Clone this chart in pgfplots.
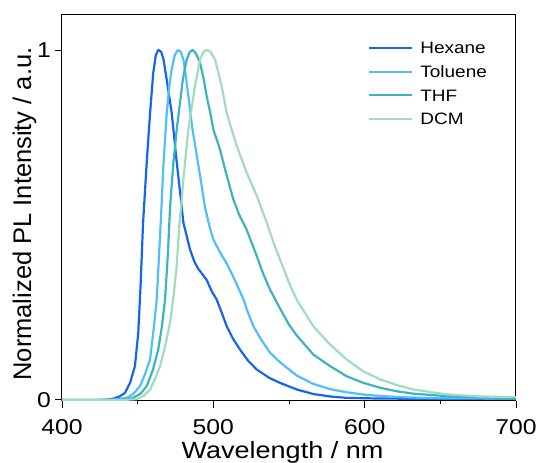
\documentclass[border=0pt]{standalone}
\usepackage{fontspec}
\setmainfont{Liberation Sans}[FakeStretch=1.15]
\newfontfamily\ylabfont{Liberation Sans}
\usepackage{pgfplots}
\pgfplotsset{compat=1.18}

\definecolor{cHex}{RGB}{22,100,240}
\definecolor{cTol}{RGB}{80,190,255}
\definecolor{cTHF}{RGB}{60,180,192}
\definecolor{cDCM}{RGB}{162,220,188}

\begin{document}
\begin{tikzpicture}
\useasboundingbox (-62pt,-62pt) rectangle (477pt,401pt);
\begin{axis}[
    scale only axis,
    width=454pt, height=386pt,
    xmin=400, xmax=700,
    ymin=-0.003, ymax=1.1,
    xtick={400,500,600,700},
    minor xtick={450,550,650},
    ytick={0,1},
    xtick pos=lower, ytick pos=left,
    tick align=outside,
    major tick length=7pt, minor tick length=3.5pt,
    every tick/.style={black, line width=0.9pt},
    axis line style={line width=1pt},
    /pgf/number format/assume math mode=true,
    ticklabel style={font=\fontsize{21.5}{21.5}\selectfont, inner sep=0pt},
    xticklabel style={anchor=north, yshift=-11pt},
    yticklabel style={anchor=east, xshift=-4pt},
    xlabel={Wavelength / nm},
    ylabel={Normalized PL Intensity / a.u.},
    label style={inner sep=0pt},
    xlabel style={font=\fontsize{23.5}{23.5}\selectfont,
        at={(axis description cs:0.4857,-0.1036)}, anchor=north},
    ylabel style={font=\ylabfont\fontsize{25.5}{25.5}\selectfont,
        at={(axis description cs:-0.109,0.4845)}, anchor=north},
    legend style={at={(rel axis cs:0.674,0.929)}, anchor=north west,
        draw=none, fill=none, inner sep=0pt,
        font=\fontsize{16.5}{16.5}\selectfont,
        row sep=10.5pt, column sep=0pt,
        nodes={inner sep=0pt, anchor=base west}},
    legend cell align=left,
    legend image code/.code={\draw[#1] (0pt,5.9pt) -- (43pt,5.9pt);\path (50pt,5.9pt);},
    every axis plot/.append style={line width=2.2pt, line join=round},
]
% Hexane
\addplot[cHex] coordinates {
(400,0) (425,0) (430,0.001) (434,0.004) (438,0.010) (441.6,0.020) (445,0.049)
(448.2,0.097) (450.4,0.192) (452,0.335) (453.5,0.500) (456,0.680) (458.2,0.820)
(460.3,0.935) (462,0.985) (463.6,1.000) (465.5,0.995) (467,0.975) (469.2,0.915)
(472.5,0.820) (475.8,0.680) (478,0.595) (480.2,0.507) (484.6,0.430) (487.5,0.395)
(490,0.375) (493,0.358) (495.6,0.343) (499,0.310) (502.2,0.287) (505.5,0.250)
(508.8,0.211) (513,0.175) (517.6,0.144) (523,0.112) (528.7,0.087) (537,0.063)
(544,0.049) (555,0.030) (566,0.017) (577,0.010) (588,0.006) (610,0.004)
(650,0.003) (700,0.003)
};
\addlegendentry{Hexane}
% Toluene
\addplot[cTol] coordinates {
(400,0) (430,0) (438,0.003) (442.8,0.006) (447,0.017) (451.6,0.040) (455,0.075)
(458.2,0.116) (460.5,0.200) (462.6,0.287) (464.2,0.420) (465.5,0.530) (467,0.670)
(469.2,0.820) (471,0.900) (472.5,0.945) (474.5,0.985) (476.5,1.000) (478.5,0.995)
(480.2,0.973) (482,0.920) (483.5,0.868) (486,0.780) (489,0.700) (492,0.620)
(494.5,0.550) (497.8,0.490) (500,0.459) (504,0.425) (508.8,0.390) (513,0.354)
(517.6,0.310) (520,0.287) (522,0.260) (526.4,0.211) (532,0.170) (537.5,0.135)
(544,0.108) (555,0.070) (566,0.046) (577,0.031) (588,0.022) (600,0.015)
(615,0.010) (630,0.007) (650,0.005) (700,0.004)
};
\addlegendentry{Toluene}
% THF
\addplot[cTHF] coordinates {
(400,0) (435,0) (441,0.002) (447,0.006) (452,0.018) (456,0.040) (460,0.085)
(463.6,0.144) (466,0.210) (468.1,0.287) (470,0.420) (471.4,0.550) (473.6,0.678)
(476,0.780) (478,0.850) (480,0.920) (482.4,0.973) (484.5,0.995) (486.4,1.000)
(488.5,0.990) (491.2,0.964) (493.5,0.920) (495.6,0.868) (498,0.820) (500,0.773)
(504.4,0.716) (508,0.655) (513.2,0.573) (517,0.530) (522,0.487) (528.7,0.411)
(533,0.360) (537.5,0.315) (544,0.262) (550,0.215) (555,0.185) (566,0.130)
(577,0.097) (588,0.068) (599,0.049) (610,0.035) (621,0.025) (632,0.018)
(654,0.011) (676,0.008) (700,0.006)
};
\addlegendentry{THF}
% DCM
\addplot[cDCM] coordinates {
(400,0) (440,0) (449.4,0.002) (454,0.012) (458.2,0.030) (461.5,0.060)
(464.8,0.097) (468,0.150) (471.4,0.221) (473.8,0.300) (475.8,0.383) (477.5,0.497)
(479.1,0.573) (480.2,0.630) (483.5,0.773) (487.9,0.897) (491.2,0.973) (493.5,0.995)
(495.6,1.000) (498,0.995) (501.1,0.973) (505.5,0.897) (508.8,0.821) (515.4,0.726)
(522,0.650) (528.7,0.583) (535.3,0.507) (539.7,0.450) (544,0.402) (550,0.335)
(555,0.287) (566,0.211) (577,0.159) (588,0.116) (599,0.082) (610,0.059)
(621,0.043) (632,0.030) (654,0.016) (676,0.010) (700,0.008)
};
\addlegendentry{DCM}
\end{axis}
\end{tikzpicture}
\end{document}
